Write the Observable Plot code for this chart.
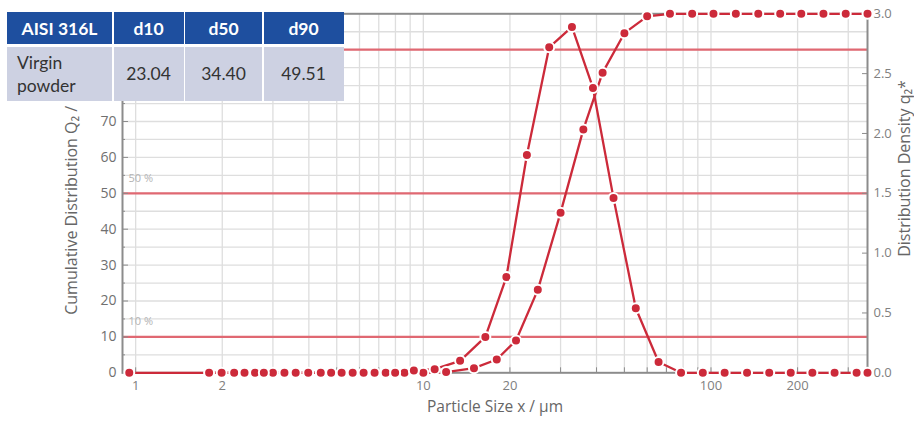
<!DOCTYPE html>
<html>
<head>
<meta charset="utf-8">
<script src="https://cdn.jsdelivr.net/npm/d3@7"></script>
<script src="https://cdn.jsdelivr.net/npm/@observablehq/plot@0.6"></script>
<style>
  html, body { margin: 0; padding: 0; background: #fff; }
  #wrap { position: relative; width: 914px; height: 421px; overflow: hidden; }
  #chart svg { font-family: "Open Sans", sans-serif; }
  #tbl {
    position: absolute; left: 7px; top: 12px;
    display: grid;
    grid-template-columns: 105px 70px 77px 80px;
    grid-template-rows: 32px 54px;
    column-gap: 1.5px; row-gap: 2.5px;
    background: #fff;
    font-family: Lato, "Open Sans", sans-serif;
  }
  #tbl .h { background: #1e4f9f; color: #fff; font-weight: 700; font-size: 17.5px;
            display: flex; align-items: center; justify-content: center; }
  #tbl .b { background: #cdd1e2; color: #333; font-size: 17.5px;
            display: flex; align-items: center; justify-content: center; }
  #tbl .b.first { justify-content: flex-start; padding-left: 10px; line-height: 23px; }
</style>
</head>
<body>
<div id="wrap">
  <div id="chart"></div>
  <div id="tbl"></div>
</div>
<script>
// ---- data ----
const sizesQ = [1.8, 2.2, 2.6, 3.0, 3.6, 4.4, 5.2, 6.2, 7.4, 8.6, 10, 12, 15, 18, 21, 25, 30, 36, 42, 50, 60, 72, 86, 102, 122, 146, 174, 206, 246, 294, 350];
const cumulativeQ = [0, 0, 0, 0, 0, 0, 0, 0, 0, 0, 0, 0.2, 1.3, 3.7, 9.0, 23.1, 44.6, 67.8, 83.6, 94.6, 99.3, 100, 100, 100, 100, 100, 100, 100, 100, 100, 100];

const densitySizes = [0.95, 1.99, 2.39, 2.79, 3.29, 3.98, 4.78, 5.68, 6.77, 7.98, 9.27, 10.95, 13.42, 16.43, 19.44, 22.91, 27.39, 32.86, 38.88, 45.83, 54.77, 65.73, 78.69, 93.66, 111.55, 133.46, 159.39, 189.33, 225.12, 268.93, 320.78, 350];
const densityQ = [0, 0, 0, 0, 0, 0, 0, 0, 0, 0, 0.02, 0.03, 0.10, 0.30, 0.80, 1.82, 2.72, 2.89, 2.38, 1.46, 0.54, 0.09, 0, 0, 0, 0, 0, 0, 0, 0, 0, 0];

const refLevels = [10, 50, 90];
const refLabels = ["10 %", "50 %", ""];   // the 90 % label sits under the table

const xLabelTicks = [1, 2, 5, 7, 10, 20, 50, 70, 100, 200];
const xMinorTicks = [1, 2, 3, 4, 5, 6, 7, 8, 9, 10, 20, 30, 40, 50, 60, 70, 80, 90, 100, 200, 300];
const leftTicks = [0, 10, 20, 30, 40, 50, 60, 70, 80, 90];
const leftMinorTicks = [5, 15, 25, 35, 45, 55, 65, 75, 85, 95];
const yGridTicks = [5, 10, 15, 20, 25, 30, 35, 40, 45, 50, 55, 60, 65, 70, 75, 80, 85, 90, 95];
const rightTicks = [0.0, 0.5, 1.0, 1.5, 2.0, 2.5, 3.0];
const rightMax = 3.0;

const xLabel = "Particle Size x / µm";
const yLabel = "Cumulative Distribution Q₂ / %";
const y2Label = "Distribution Density q₂*";

const tableHeader = ["AISI 316L", "d10", "d50", "d90"];
const tableRowLabel = ["Virgin", "powder"];
const tableValues = ["23.04", "34.40", "49.51"];

// ---- build ----
const red = "#cc2a3a";
const font = "Open Sans";
const qToY = q => q * 100 / rightMax;
const cum = sizesQ.map((x, i) => ({x, y: cumulativeQ[i]}));
const dens = densitySizes.map((x, i) => ({x, y: qToY(densityQ[i])}));
const refs = refLevels.map((y, i) => ({y, label: refLabels[i]}));

const plot = Plot.plot({
  width: 914,
  height: 421,
  marginLeft: 122,
  marginRight: 47,
  marginTop: 13.3,
  marginBottom: 48.7,
  style: {fontFamily: font, fontSize: "13px", color: "#777", background: "white"},
  x: {type: "log", domain: [0.9, 350]},
  y: {domain: [0, 100]},
  marks: [
    Plot.gridX(xMinorTicks, {stroke: "#dedede", strokeOpacity: 1, strokeWidth: 1.3}),
    Plot.gridY(yGridTicks, {stroke: "#dedede", strokeOpacity: 1, strokeWidth: 1.3}),
    Plot.ruleY(refs, {y: "y", stroke: "#e06872", strokeWidth: 2.2}),
    Plot.text(refs.filter(d => d.label), {y: "y", text: "label", frameAnchor: "left", textAnchor: "start", dx: 6, dy: -15, fill: "#b3b3b3", fontSize: 11, fontFamily: font}),
    Plot.frame({stroke: "#8c8c8c", strokeWidth: 2}),
    Plot.axisY(leftTicks, {anchor: "left", tickSize: 0, tickPadding: 6, label: null, fontSize: 14, fill: "#707070", fontFamily: font}),
    Plot.axisY(leftTicks, {anchor: "left", tickSize: -6, fill: "none", stroke: "#8c8c8c", label: null}),
    Plot.axisY(leftMinorTicks, {anchor: "left", tickSize: -3, fill: "none", stroke: "#8c8c8c", label: null}),
    Plot.axisY(rightTicks.map(qToY), {anchor: "right", tickSize: 0, tickPadding: 6, label: null, fill: "#808080", fontFamily: font,
      tickFormat: d => (d * rightMax / 100).toFixed(1)}),
    Plot.axisY(rightTicks.map(qToY), {anchor: "right", tickSize: -6, fill: "none", stroke: "#8c8c8c", label: null}),
    Plot.axisX(xLabelTicks, {anchor: "bottom", tickSize: 0, tickPadding: 8, label: null, fill: "#808080", fontFamily: font, tickFormat: d => String(d)}),
    Plot.axisX(xMinorTicks, {anchor: "bottom", tickSize: -5, fill: "none", stroke: "#8c8c8c", label: null}),
    Plot.line(cum, {x: "x", y: "y", stroke: red, strokeWidth: 2.3}),
    Plot.line(dens, {x: "x", y: "y", stroke: red, strokeWidth: 2.3}),
    Plot.dot(cum, {x: "x", y: "y", r: 5, fill: red, stroke: "white", strokeWidth: 2}),
    Plot.dot(dens, {x: "x", y: "y", r: 5, fill: red, stroke: "white", strokeWidth: 2}),
    Plot.text([xLabel], {text: d => d, frameAnchor: "bottom", dy: 39, fill: "#666", fontSize: 15.5, fontFamily: font}),
    Plot.text([yLabel], {text: d => d, frameAnchor: "bottom-left", rotate: -90, textAnchor: "start", dx: -46, dy: -58, fill: "#666", fontSize: 16, fontFamily: font}),
    Plot.text([y2Label], {text: d => d, frameAnchor: "bottom-right", rotate: -90, textAnchor: "start", dx: 42, dy: -116, fill: "#666", fontSize: 16, fontFamily: font})
  ]
});
document.getElementById("chart").appendChild(plot);

// table overlay
const tbl = document.getElementById("tbl");
tableHeader.forEach(t => {
  const c = document.createElement("div");
  c.className = "h"; c.textContent = t; tbl.appendChild(c);
});
const first = document.createElement("div");
first.className = "b first";
first.innerHTML = tableRowLabel.join("<br>");
tbl.appendChild(first);
tableValues.forEach(t => {
  const c = document.createElement("div");
  c.className = "b"; c.textContent = t; tbl.appendChild(c);
});
</script>
</body>
</html>
